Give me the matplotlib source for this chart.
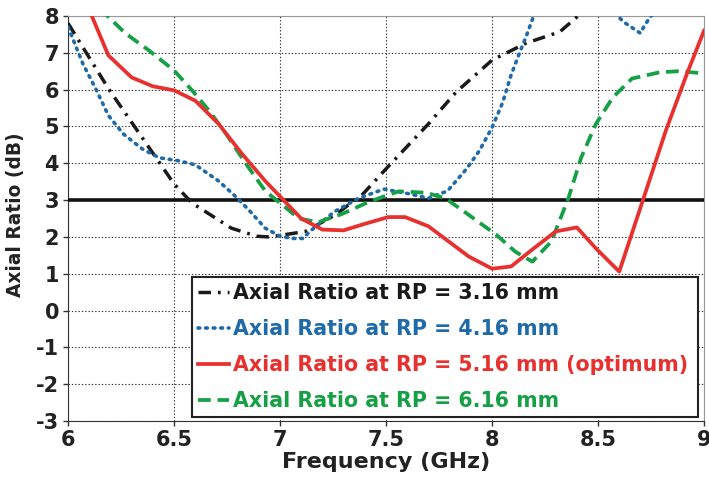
import matplotlib
matplotlib.use("Agg")
import matplotlib.pyplot as plt
import numpy as np

plt.rcParams["axes.unicode_minus"] = False

# Data
f_black = [6.00, 6.19, 6.50, 6.585, 6.77, 6.89, 6.95, 7.03, 7.12, 7.26, 7.39, 7.50, 7.70, 7.83, 8.00, 8.16, 8.32, 8.40, 8.45]
ar_black = [7.8, 6.03, 3.44, 2.92, 2.24, 2.02, 2.0, 2.07, 2.15, 2.6, 3.16, 3.85, 5.07, 5.93, 6.8, 7.26, 7.57, 7.97, 8.3]

f_blue = [6.00, 6.07, 6.13, 6.19, 6.26, 6.35, 6.43, 6.52, 6.60, 6.71, 6.79, 6.85, 6.93, 7.00, 7.06, 7.11, 7.14, 7.26, 7.37,
          7.49, 7.62, 7.70, 7.79, 7.88, 7.94, 8.00, 8.05, 8.09, 8.13, 8.16, 8.19, 8.22, 8.40, 8.56, 8.59, 8.63, 8.70, 8.72, 8.75, 8.78]
ar_blue = [7.7, 6.7, 6.03, 5.3, 4.8, 4.39, 4.15, 4.07, 3.96, 3.52, 3.1, 2.75, 2.24, 2.02, 1.96, 1.96, 2.15, 2.7, 3.05,
           3.3, 3.16, 3.05, 3.25, 3.85, 4.34, 4.97, 5.65, 6.4, 7.0, 7.43, 7.9, 8.4, 9.5, 8.4, 8.0, 7.8, 7.53, 7.75, 8.0, 8.3]

f_red = [6.09, 6.19, 6.30, 6.40, 6.50, 6.60, 6.71, 6.82, 6.93, 7.03, 7.10, 7.20, 7.30, 7.39, 7.51, 7.59, 7.70, 7.89, 8.00,
         8.09, 8.19, 8.30, 8.40, 8.49, 8.60, 8.71, 8.82, 8.92, 9.00]
ar_red = [8.3, 6.93, 6.33, 6.09, 5.98, 5.7, 5.07, 4.26, 3.52, 2.92, 2.5, 2.2, 2.18, 2.34, 2.54, 2.54, 2.29, 1.47, 1.14,
          1.2, 1.66, 2.15, 2.26, 1.69, 1.06, 2.97, 4.89, 6.44, 7.6]

f_green = [6.15, 6.27, 6.38, 6.50, 6.585, 6.665, 6.745, 6.84, 6.93, 7.00, 7.09, 7.18, 7.29, 7.41, 7.49, 7.56, 7.69, 7.78,
           7.89, 8.02, 8.11, 8.19, 8.28, 8.36, 8.42, 8.49, 8.57, 8.66, 8.79, 8.88, 9.00]
ar_green = [8.2, 7.53, 7.07, 6.52, 5.98, 5.43, 4.8, 3.98, 3.25, 2.92, 2.5, 2.4, 2.62, 2.93, 3.1, 3.24, 3.2, 3.05,
            2.6, 2.06, 1.6, 1.33, 1.88, 3.05, 4.15, 5.07, 5.79, 6.3, 6.47, 6.5, 6.44]

ref_level = 3
labels = ["Axial Ratio at RP = 3.16 mm", "Axial Ratio at RP = 4.16 mm",
          "Axial Ratio at RP = 5.16 mm (optimum)", "Axial Ratio at RP = 6.16 mm"]
colors = ["#1a1a1a", "#1f6aa8", "#e8302e", "#16a045"]
xticks = [6, 6.5, 7, 7.5, 8, 8.5, 9]
xticklabels = ["6", "6.5", "7", "7.5", "8", "8.5", "9"]
yticks = list(range(-3, 9))

fig = plt.figure(figsize=(7.09, 4.83), dpi=100)
ax = fig.add_axes([0.096, 0.128, 0.897, 0.839])

ax.grid(True, linestyle=(0, (1.2, 1.8)), color="#333333", linewidth=0.8)
ax.set_axisbelow(True)

ax.axhline(ref_level, color="#111111", linewidth=2.6, zorder=3)
l1, = ax.plot(f_black, ar_black, color=colors[0], linewidth=2.5, linestyle=(0, (3.6, 2.0, 0.8, 2.0)), zorder=4)
l2, = ax.plot(f_blue, ar_blue, color=colors[1], linewidth=2.6, linestyle=(0, (0.5, 1.6)), dash_capstyle="round", zorder=4)
l3, = ax.plot(f_red, ar_red, color=colors[2], linewidth=2.7, zorder=5)
l4, = ax.plot(f_green, ar_green, color=colors[3], linewidth=2.7, linestyle=(0, (3.4, 1.8)), zorder=4)

ax.set_xlim(6, 9)
ax.set_ylim(-3, 8)
ax.set_xticks(xticks)
ax.set_xticklabels(xticklabels)
ax.set_yticks(yticks)
for lab in ax.get_xticklabels() + ax.get_yticklabels():
    lab.set_fontweight("bold")
    lab.set_fontsize(15)
    lab.set_color("#222222")
ax.tick_params(axis="both", length=3.5, width=1, color="#333333", pad=3)
ax.set_xlabel("Frequency (GHz)", fontsize=16, fontweight="bold", color="#222222", labelpad=1)
ax.set_ylabel("Axial Ratio (dB)", fontsize=13.4, fontweight="bold", color="#222222")
ax.yaxis.set_label_coords(-0.068, 0.51)

for s in ["top", "right"]:
    ax.spines[s].set_color("#999999")
for s in ["left", "bottom"]:
    ax.spines[s].set_color("#333333")

leg = ax.legend([l1, l2, l3, l4], labels, loc="lower left", bbox_to_anchor=(0.195, 0.01, 0.795, 0.36),
                mode="expand", handlelength=1.5, handletextpad=0.2, borderaxespad=0, fancybox=False,
                framealpha=1, edgecolor="#222222", labelspacing=0.78, borderpad=0.3,
                prop={"weight": "bold", "size": 14.8})
leg.get_frame().set_linewidth(1.5)
for t, c in zip(leg.get_texts(), colors):
    t.set_color(c)

fig.savefig("out.png", dpi=100)
